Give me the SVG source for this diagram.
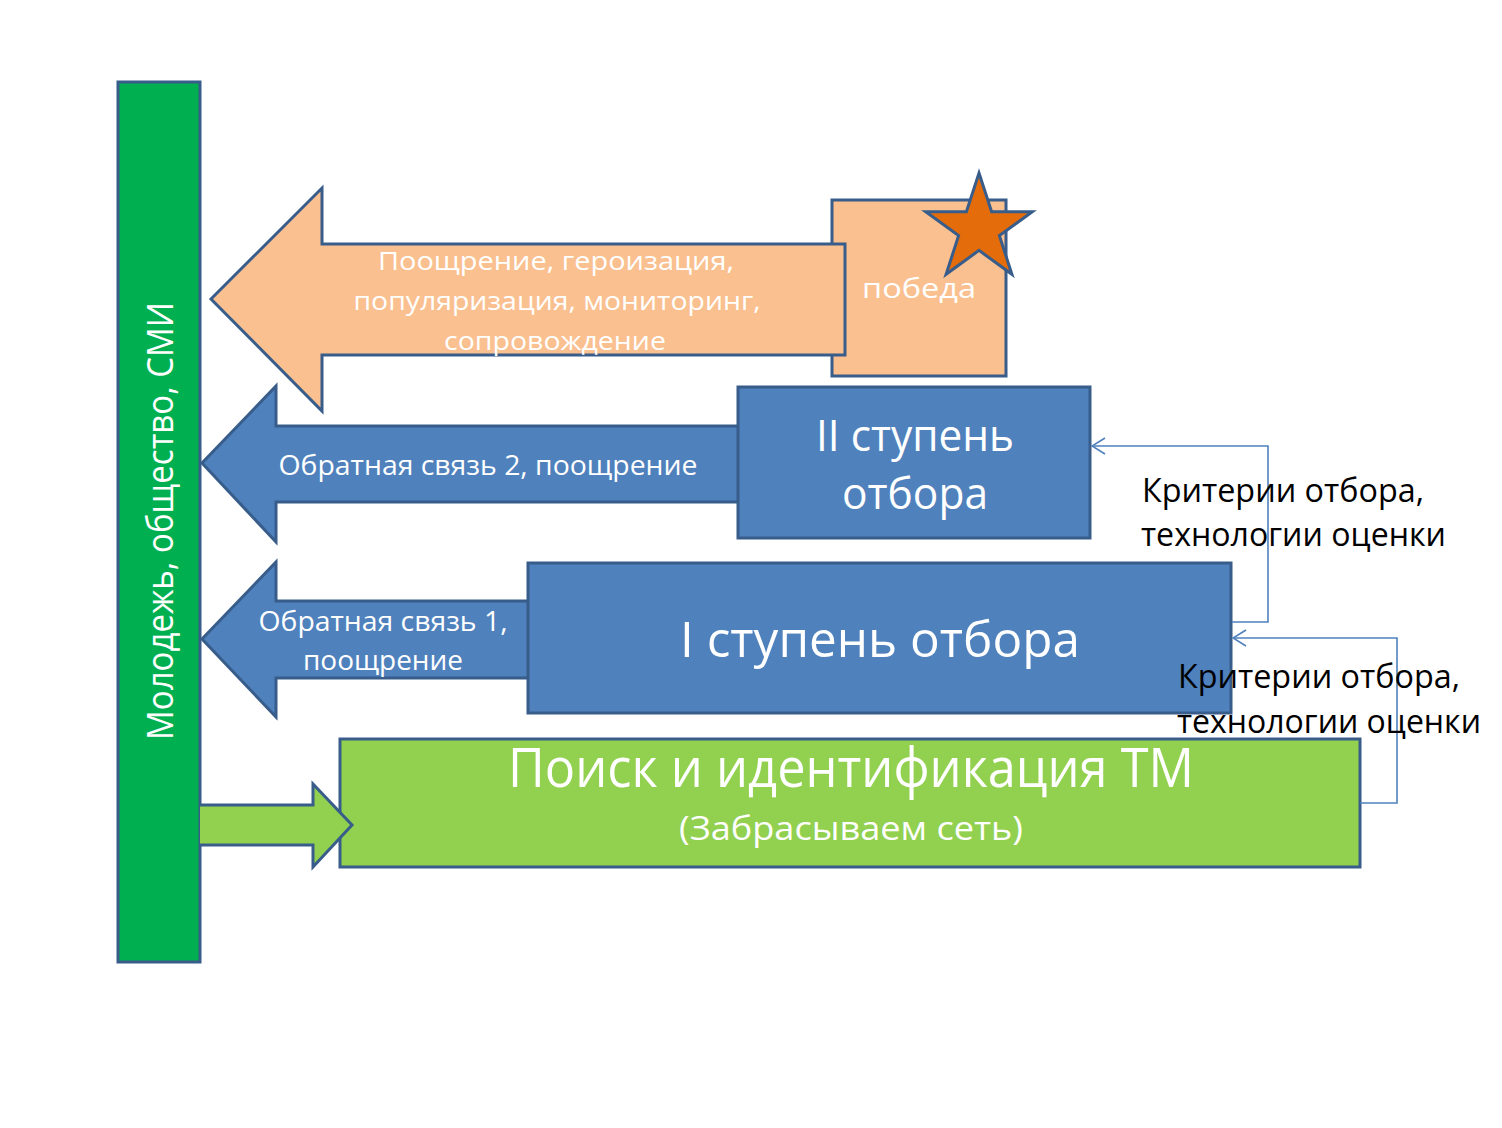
<svg xmlns="http://www.w3.org/2000/svg" width="1502" height="1128" viewBox="0 0 1502 1128">
<style>
.sh{stroke:#385D8A;stroke-width:3;stroke-linejoin:miter}
.blue{fill:#4F81BD}
.orange{fill:#FAC090}
.lgreen{fill:#92D050}
.wt{fill:#FFFFFF;font-family:"Open Sans","Noto Sans","DejaVu Sans",sans-serif;text-anchor:middle}
.bt{fill:#000000;font-family:"Open Sans","Noto Sans","DejaVu Sans",sans-serif;font-size:33px}
.conn{fill:none;stroke:#4F81BD;stroke-width:1.6}
</style>
<defs>
<marker id="open" viewBox="0 0 15 18" refX="14" refY="9" markerWidth="15" markerHeight="18" markerUnits="userSpaceOnUse" orient="auto">
<path d="M1,1 L14,9 L1,17" fill="none" stroke="#4F81BD" stroke-width="1.6"/>
</marker>
</defs>
<rect width="1502" height="1128" fill="#FFFFFF"/>

<g id="society-bar">
<rect class="sh" x="118" y="82" width="82" height="880" fill="#00B050"/>
<text class="wt" transform="translate(173,521) rotate(-90)" font-size="36" textLength="438" lengthAdjust="spacingAndGlyphs">Молодежь, общество, СМИ</text>
</g>

<g id="victory">
<rect class="sh orange" x="832" y="200" width="174" height="176"/>
<text class="wt" x="919" y="298" font-size="28" textLength="114" lengthAdjust="spacingAndGlyphs">победа</text>
</g>

<g id="arrow-promotion">
<path class="sh orange" d="M211,299 L322,188 L322,244 L845,244 L845,355 L322,355 L322,411 Z"/>
<text class="wt" x="556" y="270" font-size="26" textLength="356" lengthAdjust="spacingAndGlyphs">Поощрение,  героизация,</text>
<text class="wt" x="557" y="310" font-size="26" textLength="407" lengthAdjust="spacingAndGlyphs">популяризация, мониторинг,</text>
<text class="wt" x="555" y="350" font-size="26" textLength="222" lengthAdjust="spacingAndGlyphs">сопровождение</text>
</g>

<g id="star">
<path d="M979,173 L991.6,211.7 L1032.3,211.7 L999.4,235.6 L1011.9,274.3 L979,250.4 L946.1,274.3 L958.6,235.6 L925.7,211.7 L966.4,211.7 Z" fill="#E46C0A" stroke="#385D8A" stroke-width="3" stroke-linejoin="miter"/>
</g>

<g id="arrow-feedback-2">
<path class="sh blue" d="M202,463 L276,386 L276,426 L740,426 L740,502 L276,502 L276,542 Z"/>
<text class="wt" x="488" y="475" font-size="28" textLength="419" lengthAdjust="spacingAndGlyphs">Обратная связь 2, поощрение</text>
</g>

<g id="stage-2">
<rect class="sh blue" x="738" y="387" width="352" height="151"/>
<text class="wt" x="915" y="451" font-size="44" textLength="198" lengthAdjust="spacingAndGlyphs">II ступень</text>
<text class="wt" x="915" y="509" font-size="44" textLength="146" lengthAdjust="spacingAndGlyphs">отбора</text>
</g>

<g id="arrow-feedback-1">
<path class="sh blue" d="M202,639 L276,562 L276,601 L530,601 L530,678 L276,678 L276,717 Z"/>
<text class="wt" x="383" y="631" font-size="28" textLength="249" lengthAdjust="spacingAndGlyphs">Обратная связь 1,</text>
<text class="wt" x="383" y="670" font-size="28" textLength="160" lengthAdjust="spacingAndGlyphs">поощрение</text>
</g>

<g id="stage-1">
<rect class="sh blue" x="528" y="563" width="703" height="150"/>
<text class="wt" x="880" y="657" font-size="49" textLength="400" lengthAdjust="spacingAndGlyphs">I ступень отбора</text>
</g>

<g id="search">
<rect class="sh lgreen" x="340" y="739" width="1020" height="128"/>
<text class="wt" x="851" y="787" font-size="55" textLength="686" lengthAdjust="spacingAndGlyphs">Поиск и идентификация ТМ</text>
<text class="wt" x="851" y="840" font-size="33" textLength="344" lengthAdjust="spacingAndGlyphs">(Забрасываем сеть)</text>
</g>

<g id="arrow-input">
<path class="sh lgreen" d="M200,805 L313,805 L313,784 L352,825 L313,867 L313,845 L200,845"/>
</g>

<g id="connectors">
<polyline class="conn" points="1232,622 1268,622 1268,446 1092,446" marker-end="url(#open)"/>
<polyline class="conn" points="1360,803 1397,803 1397,638 1233,638" marker-end="url(#open)"/>
</g>

<g id="criteria-labels">
<text class="bt" x="1142" y="502" textLength="282" lengthAdjust="spacingAndGlyphs">Критерии отбора,</text>
<text class="bt" x="1141" y="546" textLength="305" lengthAdjust="spacingAndGlyphs">технологии оценки</text>
<text class="bt" x="1178" y="688" textLength="282" lengthAdjust="spacingAndGlyphs">Критерии отбора,</text>
<text class="bt" x="1177" y="733" textLength="304" lengthAdjust="spacingAndGlyphs">технологии оценки</text>
</g>
</svg>
